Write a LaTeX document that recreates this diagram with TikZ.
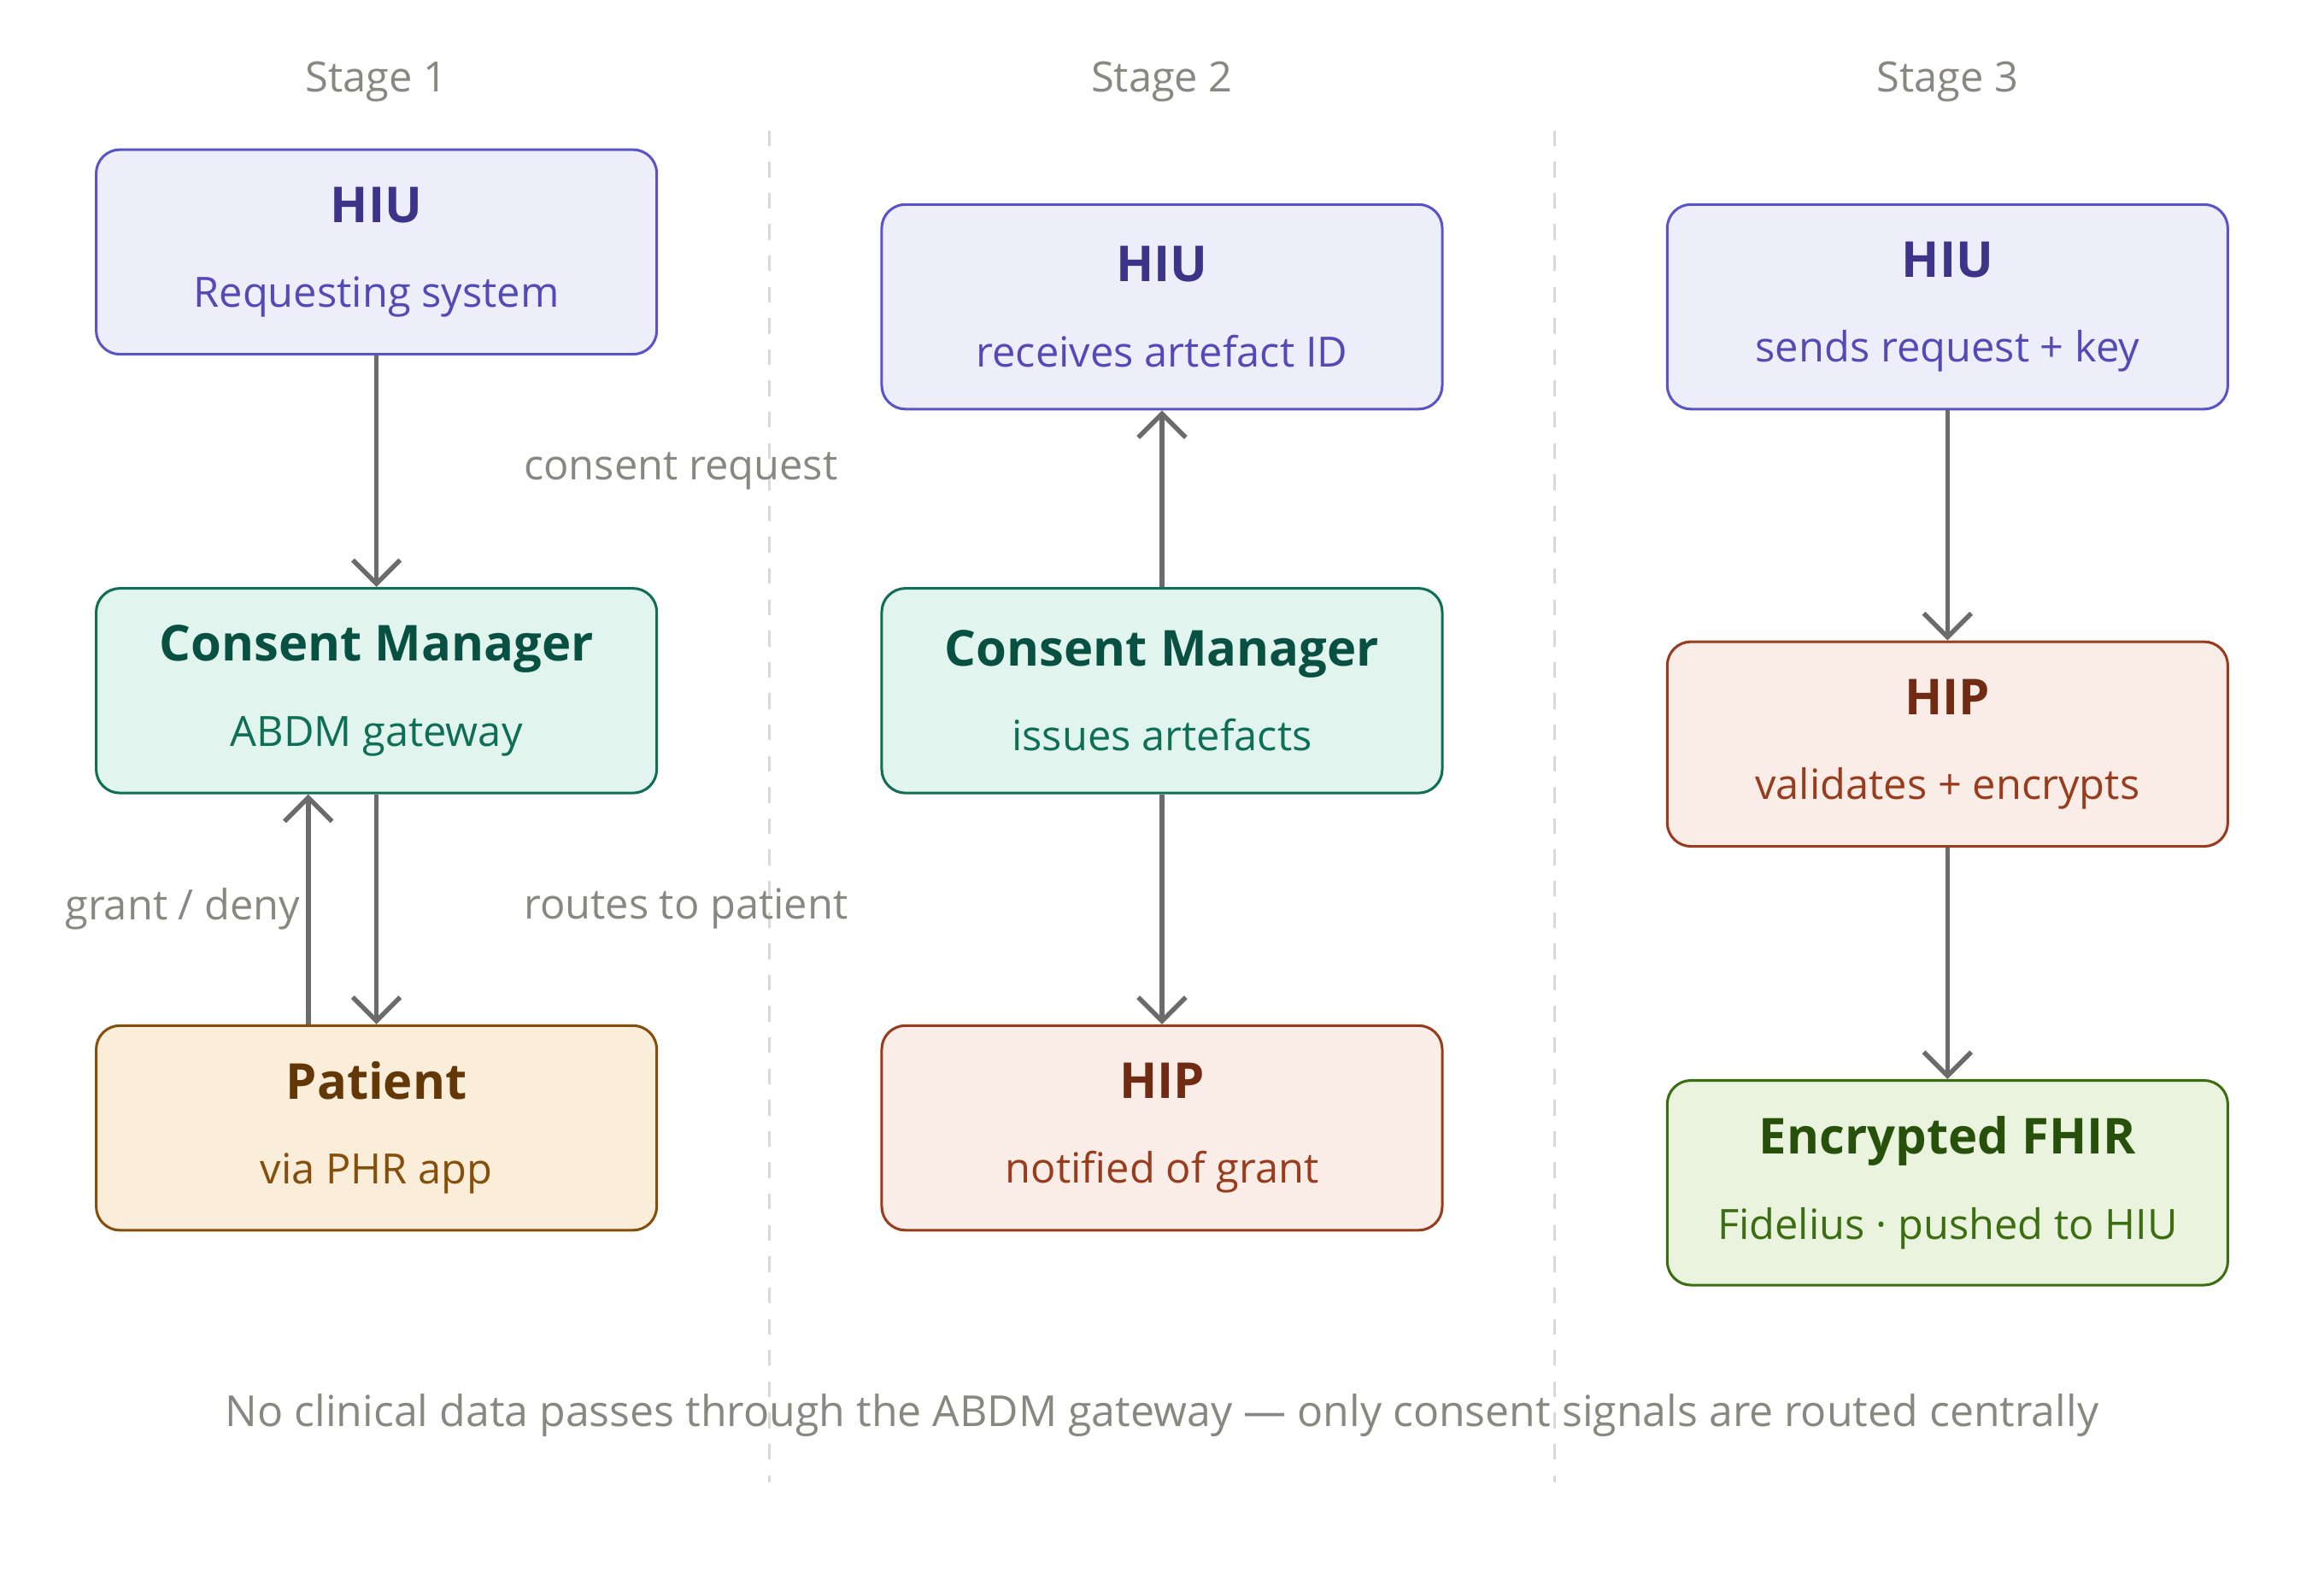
\documentclass[tikz,border=0pt]{standalone}
\usepackage{fontspec}
\setmainfont{Open Sans}
\usetikzlibrary{positioning,arrows.meta}
\definecolor{hiufill}{HTML}{EEEEFB}
\definecolor{hiudraw}{HTML}{5B54C9}
\definecolor{hiutitle}{HTML}{3C3489}
\definecolor{hiusub}{HTML}{534AB7}
\definecolor{cmfill}{HTML}{E1F5EE}
\definecolor{cmdraw}{HTML}{0F6E56}
\definecolor{cmtitle}{HTML}{085041}
\definecolor{patfill}{HTML}{FAEEDA}
\definecolor{patdraw}{HTML}{854F0B}
\definecolor{pattitle}{HTML}{633806}
\definecolor{hipfill}{HTML}{FAECE7}
\definecolor{hipdraw}{HTML}{993C1D}
\definecolor{hiptitle}{HTML}{712B13}
\definecolor{fhirfill}{HTML}{EAF3DE}
\definecolor{fhirdraw}{HTML}{3B6D11}
\definecolor{fhirtitle}{HTML}{27500A}
\definecolor{greytext}{HTML}{888780}
\definecolor{arrowgrey}{HTML}{6B6B6B}
\newcommand{\boxtext}[3]{{\fontsize{9.5}{11}\selectfont\bfseries\color{#1}#2}\\[1.5mm]{\fontsize{8}{10}\selectfont #3}}

\begin{document}
\begin{tikzpicture}[x=0.01cm, y=-0.01cm,
    stagebox/.style={draw, rounded corners=0.16cm, minimum width=3.78cm, minimum height=1.38cm, align=center, line width=0.5pt},
    hiu/.style={stagebox, fill=hiufill, draw=hiudraw, text=hiusub},
    consent/.style={stagebox, fill=cmfill, draw=cmdraw, text=cmdraw},
    patient/.style={stagebox, fill=patfill, draw=patdraw, text=patdraw},
    hip/.style={stagebox, fill=hipfill, draw=hipdraw, text=hipdraw},
    fhir/.style={stagebox, fill=fhirfill, draw=fhirdraw, text=fhirdraw},
    flow/.style={-{Straight Barb[length=1.6mm, width=3.2mm]}, line width=0.9pt, arrowgrey},
    note/.style={font=\fontsize{8}{10}\selectfont, text=greytext}
]
\useasboundingbox (0,0) rectangle (1568,1061);

% stage headings and separators
\node[note] (s1) at (254,55) {Stage 1};
\node[note] (s2) at (784,55) {Stage 2};
\node[note] (s3) at (1314,55) {Stage 3};
\draw[black!15, dashed, line width=0.5pt] (519,88) -- (519,1000);
\draw[black!15, dashed, line width=0.5pt] (1049,88) -- (1049,1000);

% Stage 1
\node[hiu] (hiuA) at (254,170) {\boxtext{hiutitle}{HIU}{Requesting system}};
\node[consent] (cmA) at (254,466) {\boxtext{cmtitle}{Consent Manager}{ABDM gateway}};
\node[patient] (patA) at (254,761) {\boxtext{pattitle}{Patient}{via PHR app}};
\draw[flow] (hiuA) -- (cmA);
\draw[flow] (cmA) -- (patA);
\draw[flow] ([xshift=-0.46cm]patA.north) -- ([xshift=-0.46cm]cmA.south);
\node[note, anchor=west] (lreq) at (341,318) {consent request};
\node[note, anchor=west] (lroute) at (341,613) {routes to patient};
\node[note, anchor=east] (lgrant) at (215,613) {grant / deny};

% Stage 2
\node[hiu] (hiuB) at (784,207) {\boxtext{hiutitle}{HIU}{receives artefact ID}};
\node[consent] (cmB) at (784,466) {\boxtext{cmtitle}{Consent Manager}{issues artefacts}};
\node[hip] (hipB) at (784,761) {\boxtext{hiptitle}{HIP}{notified of grant}};
\draw[flow] (cmB) -- (hiuB);
\draw[flow] (cmB) -- (hipB);

% Stage 3
\node[hiu] (hiuC) at (1314,207) {\boxtext{hiutitle}{HIU}{sends request + key}};
\node[hip] (hipC) at (1314,502) {\boxtext{hiptitle}{HIP}{validates + encrypts}};
\node[fhir] (fhirC) at (1314,798) {\boxtext{fhirtitle}{Encrypted FHIR}{Fidelius · pushed to HIU}};
\draw[flow] (hiuC) -- (hipC);
\draw[flow] (hipC) -- (fhirC);

\node[note, font=\fontsize{8.2}{10}\selectfont] (foot) at (784,955) {No clinical data passes through the ABDM gateway — only consent signals are routed centrally};
\end{tikzpicture}
\end{document}
